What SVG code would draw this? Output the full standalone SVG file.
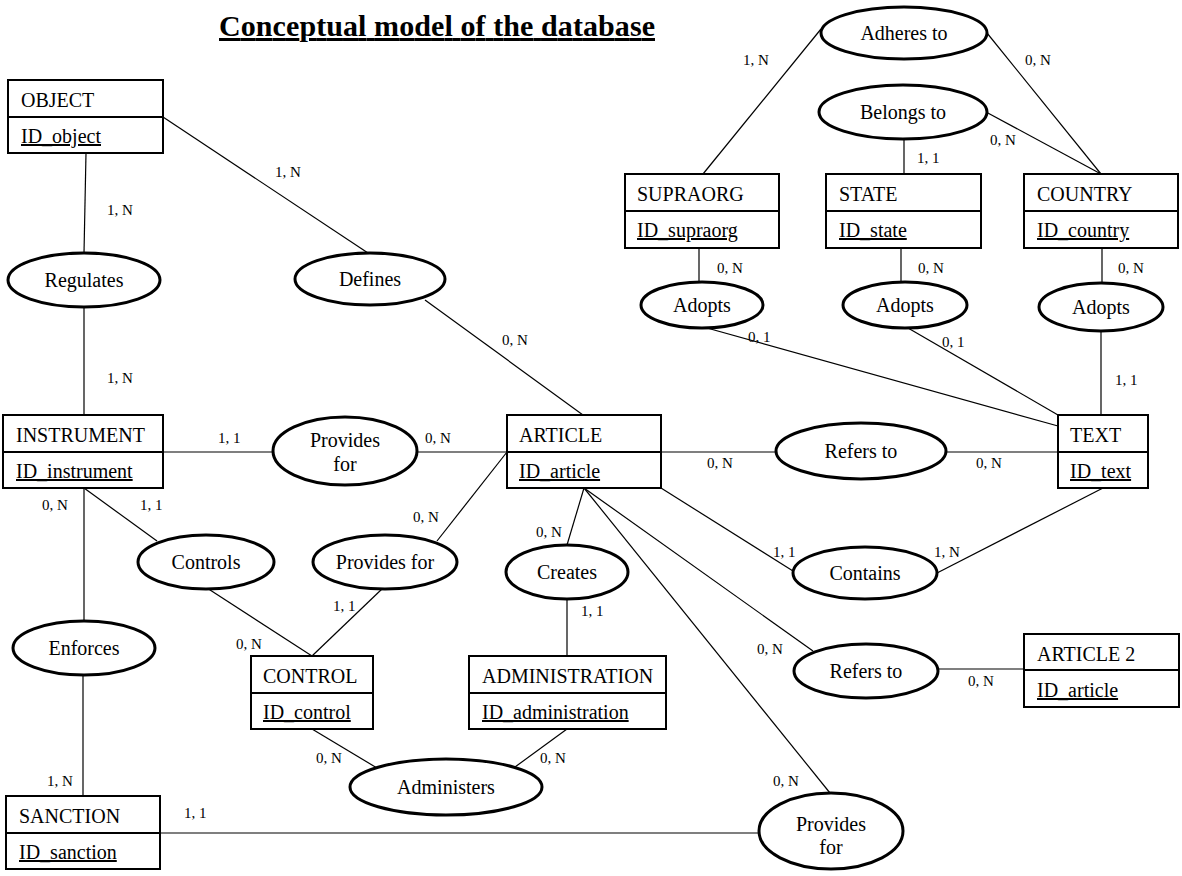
<svg xmlns="http://www.w3.org/2000/svg" width="1182" height="876" viewBox="0 0 1182 876">
<style>
text{font-family:"Liberation Serif","Times New Roman",serif;fill:#000}
.t{font-size:20px}
.id{font-size:20px;text-decoration:underline}
.c{font-size:15px}
.e{font-size:20px;text-anchor:middle}
.box{fill:#fff;stroke:#000;stroke-width:2}
.div{stroke:#000;stroke-width:2}
.ell{fill:#fff;stroke:#000;stroke-width:3}
.ln{stroke:#000;stroke-width:1.2;fill:none}
</style>
<rect width="1182" height="876" fill="#fff"/>
<text x="219" y="36" font-size="30" font-weight="bold" text-decoration="underline" textLength="436">Conceptual model of the database</text>

<g id="connectors" class="ln">
<line x1="86" y1="153" x2="84" y2="253"/>
<line x1="163" y1="117" x2="368" y2="253"/>
<line x1="84" y1="307" x2="84" y2="415"/>
<line x1="425" y1="300" x2="583" y2="415"/>
<line x1="163" y1="452" x2="273" y2="452"/>
<line x1="417" y1="452" x2="507" y2="452"/>
<line x1="661" y1="452" x2="776" y2="452"/>
<line x1="946" y1="452" x2="1058" y2="452"/>
<line x1="703" y1="174" x2="821" y2="29"/>
<line x1="1101" y1="174" x2="987" y2="33"/>
<line x1="1101" y1="174" x2="986" y2="112"/>
<line x1="904" y1="139" x2="904" y2="174"/>
<line x1="699" y1="248" x2="699" y2="282"/>
<line x1="901" y1="248" x2="901" y2="282"/>
<line x1="1102" y1="248" x2="1102" y2="283"/>
<line x1="707" y1="328" x2="1058" y2="426"/>
<line x1="908" y1="328" x2="1058" y2="415"/>
<line x1="1101" y1="331" x2="1101" y2="415"/>
<line x1="507" y1="452" x2="437" y2="541"/>
<line x1="584" y1="488" x2="567" y2="545"/>
<line x1="584" y1="488" x2="830" y2="793"/>
<line x1="584" y1="488" x2="813" y2="651"/>
<line x1="661" y1="488" x2="793" y2="571"/>
<line x1="1103" y1="488" x2="937" y2="573"/>
<line x1="84" y1="488" x2="157" y2="541"/>
<line x1="84" y1="488" x2="84" y2="621"/>
<line x1="83" y1="675" x2="83" y2="796"/>
<line x1="207" y1="588" x2="312" y2="656"/>
<line x1="383" y1="588" x2="312" y2="656"/>
<line x1="567" y1="599" x2="567" y2="656"/>
<line x1="312" y1="729" x2="377" y2="768"/>
<line x1="567" y1="729" x2="515" y2="767"/>
<line x1="160" y1="833" x2="759" y2="833"/>
<line x1="938" y1="669" x2="1024" y2="669"/>
</g>

<g id="cardinalities" class="c">
<text x="107" y="215">1, N</text>
<text x="275" y="177">1, N</text>
<text x="107" y="383">1, N</text>
<text x="502" y="345">0, N</text>
<text x="218" y="443">1, 1</text>
<text x="425" y="443">0, N</text>
<text x="707" y="468">0, N</text>
<text x="976" y="468">0, N</text>
<text x="743" y="65">1, N</text>
<text x="1025" y="65">0, N</text>
<text x="990" y="145">0, N</text>
<text x="917" y="163">1, 1</text>
<text x="717" y="273">0, N</text>
<text x="918" y="273">0, N</text>
<text x="1118" y="273">0, N</text>
<text x="748" y="342">0, 1</text>
<text x="942" y="347">0, 1</text>
<text x="1115" y="385">1, 1</text>
<text x="413" y="522">0, N</text>
<text x="536" y="537">0, N</text>
<text x="757" y="654">0, N</text>
<text x="773" y="786">0, N</text>
<text x="773" y="557">1, 1</text>
<text x="934" y="557">1, N</text>
<text x="140" y="510">1, 1</text>
<text x="42" y="510">0, N</text>
<text x="47" y="786">1, N</text>
<text x="236" y="649">0, N</text>
<text x="333" y="611">1, 1</text>
<text x="581" y="616">1, 1</text>
<text x="316" y="763">0, N</text>
<text x="540" y="763">0, N</text>
<text x="184" y="818">1, 1</text>
<text x="968" y="686">0, N</text>
</g>

<g id="object"><rect class="box" x="8" y="80" width="155" height="73"/><line class="div" x1="8" y1="117" x2="163" y2="117"/><text class="t" x="21" y="107">OBJECT</text><text class="id" x="21" y="143">ID_object</text></g>
<g id="supraorg"><rect class="box" x="625" y="174" width="154" height="74"/><line class="div" x1="625" y1="211" x2="779" y2="211"/><text class="t" x="637" y="201">SUPRAORG</text><text class="id" x="637" y="237">ID_supraorg</text></g>
<g id="state"><rect class="box" x="826" y="174" width="155" height="74"/><line class="div" x1="826" y1="211" x2="981" y2="211"/><text class="t" x="839" y="201">STATE</text><text class="id" x="839" y="237">ID_state</text></g>
<g id="country"><rect class="box" x="1024" y="174" width="154" height="74"/><line class="div" x1="1024" y1="211" x2="1178" y2="211"/><text class="t" x="1037" y="201">COUNTRY</text><text class="id" x="1037" y="237">ID_country</text></g>
<g id="instrument"><rect class="box" x="3" y="415" width="160" height="73"/><line class="div" x1="3" y1="452" x2="163" y2="452"/><text class="t" x="16" y="442">INSTRUMENT</text><text class="id" x="16" y="478">ID_instrument</text></g>
<g id="article"><rect class="box" x="507" y="415" width="154" height="73"/><line class="div" x1="507" y1="452" x2="661" y2="452"/><text class="t" x="519" y="442">ARTICLE</text><text class="id" x="519" y="478">ID_article</text></g>
<g id="text"><rect class="box" x="1058" y="415" width="90" height="73"/><line class="div" x1="1058" y1="452" x2="1148" y2="452"/><text class="t" x="1070" y="442">TEXT</text><text class="id" x="1070" y="478">ID_text</text></g>
<g id="control"><rect class="box" x="251" y="656" width="122" height="73"/><line class="div" x1="251" y1="693" x2="373" y2="693"/><text class="t" x="263" y="683">CONTROL</text><text class="id" x="263" y="719">ID_control</text></g>
<g id="administration"><rect class="box" x="469" y="656" width="197" height="73"/><line class="div" x1="469" y1="693" x2="666" y2="693"/><text class="t" x="482" y="683">ADMINISTRATION</text><text class="id" x="482" y="719">ID_administration</text></g>
<g id="sanction"><rect class="box" x="6" y="796" width="154" height="73"/><line class="div" x1="6" y1="833" x2="160" y2="833"/><text class="t" x="19" y="823">SANCTION</text><text class="id" x="19" y="859">ID_sanction</text></g>
<g id="article2"><rect class="box" x="1024" y="634" width="155" height="73"/><line class="div" x1="1024" y1="670" x2="1179" y2="670"/><text class="t" x="1037" y="661">ARTICLE 2</text><text class="id" x="1037" y="697">ID_article</text></g>

<g id="adheres"><ellipse class="ell" cx="904" cy="33" rx="83" ry="26"/><text class="e" x="904" y="40">Adheres to</text></g>
<g id="belongs"><ellipse class="ell" cx="903" cy="112" rx="84" ry="27"/><text class="e" x="903" y="119">Belongs to</text></g>
<g id="regulates"><ellipse class="ell" cx="84" cy="280" rx="76" ry="27"/><text class="e" x="84" y="287">Regulates</text></g>
<g id="defines"><ellipse class="ell" cx="370" cy="279" rx="75" ry="26"/><text class="e" x="370" y="286">Defines</text></g>
<g id="adopts1"><ellipse class="ell" cx="702" cy="305" rx="61" ry="23"/><text class="e" x="702" y="312">Adopts</text></g>
<g id="adopts2"><ellipse class="ell" cx="905" cy="305" rx="62" ry="23"/><text class="e" x="905" y="312">Adopts</text></g>
<g id="adopts3"><ellipse class="ell" cx="1101" cy="307" rx="62" ry="24"/><text class="e" x="1101" y="314">Adopts</text></g>
<g id="provides1"><ellipse class="ell" cx="345" cy="451" rx="72" ry="34"/><text class="e" x="345" y="447">Provides</text><text class="e" x="345" y="471">for</text></g>
<g id="refers1"><ellipse class="ell" cx="861" cy="451" rx="85" ry="28"/><text class="e" x="861" y="458">Refers to</text></g>
<g id="controls"><ellipse class="ell" cx="206" cy="562" rx="68" ry="27"/><text class="e" x="206" y="569">Controls</text></g>
<g id="provides2"><ellipse class="ell" cx="385" cy="562" rx="72" ry="27"/><text class="e" x="385" y="569">Provides for</text></g>
<g id="creates"><ellipse class="ell" cx="567" cy="572" rx="61" ry="27"/><text class="e" x="567" y="579">Creates</text></g>
<g id="contains"><ellipse class="ell" cx="865" cy="573" rx="72" ry="26"/><text class="e" x="865" y="580">Contains</text></g>
<g id="enforces"><ellipse class="ell" cx="84" cy="648" rx="71" ry="27"/><text class="e" x="84" y="655">Enforces</text></g>
<g id="refers2"><ellipse class="ell" cx="866" cy="671" rx="72" ry="27"/><text class="e" x="866" y="678">Refers to</text></g>
<g id="administers"><ellipse class="ell" cx="446" cy="787" rx="96" ry="28"/><text class="e" x="446" y="794">Administers</text></g>
<g id="provides3"><ellipse class="ell" cx="831" cy="831" rx="72" ry="38"/><text class="e" x="831" y="831">Provides</text><text class="e" x="831" y="854">for</text></g>
</svg>
